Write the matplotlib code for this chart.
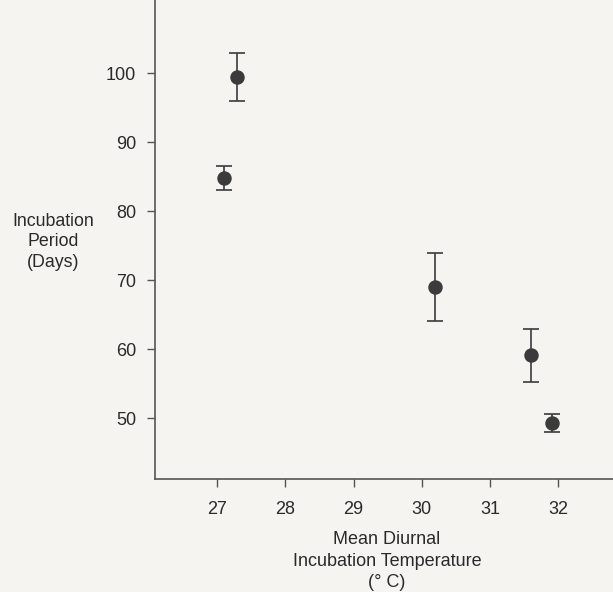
import matplotlib
matplotlib.use('Agg')
import matplotlib.pyplot as plt

# mean diurnal incubation temperature (deg C) and incubation period (days)
temp = [27.29, 27.10, 30.19, 31.60, 31.91]
period = [99.4, 84.8, 69.0, 59.1, 49.3]
err = [3.5, 1.8, 4.9, 3.9, 1.25]
xticks = [27, 28, 29, 30, 31, 32]
yticks = [50, 60, 70, 80, 90, 100]

plt.rcParams['font.family'] = ['Liberation Sans', 'DejaVu Sans']
bg = '#f5f4f1'

fig = plt.figure(figsize=(6.13, 5.92), dpi=100, facecolor=bg)
ax = fig.add_axes([0.2529, 0.1909, 0.7471, 0.8091], facecolor=bg)

ax.errorbar(temp, period, yerr=err, fmt='o', color='#3b3b3b', ms=9.4,
            ecolor='#3b3b3b', elinewidth=1.2, capsize=6, capthick=1.2)

ax.set_xlim(26.09, 32.8)
ax.set_ylim(41.2, 110.6)
ax.set_xticks(xticks)
ax.set_yticks(yticks)
ax.tick_params(direction='out', length=5.5, width=1, colors='#555555',
               labelcolor='#2a2a2a', labelsize=13)
ax.tick_params(axis='y', pad=8)
ax.tick_params(axis='x', pad=10)

for s in ['top', 'right']:
    ax.spines[s].set_visible(False)
for s in ['left', 'bottom']:
    ax.spines[s].set_color('#555555')
    ax.spines[s].set_linewidth(1.2)

fig.text(387 / 613, 1 - 561 / 592, 'Mean Diurnal\nIncubation Temperature\n(° C)',
         ha='center', va='center', fontsize=13, color='#2a2a2a',
         linespacing=1.32)
fig.text(53 / 613, 1 - 242 / 592, 'Incubation\nPeriod\n(Days)', ha='center',
         va='center', fontsize=12.8, color='#2a2a2a', linespacing=1.3)

fig.savefig('out.png', dpi=100, facecolor=bg)
